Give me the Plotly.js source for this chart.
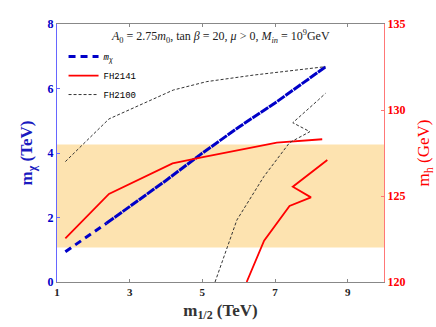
<!DOCTYPE html>
<html><head><meta charset="utf-8">
<script src="https://cdn.plot.ly/plotly-3.0.1.min.js"></script>
<style>body{margin:0;padding:0;background:#fff}#c{width:436px;height:327px}</style>
</head><body><div id="c"></div>
<script>
// m_chi (TeV) vs m_1/2 (TeV): sparse (dashed) part and dense part
const mchiX1 = [1.23, 2.36];
const mchiY1 = [0.94, 1.82];
const mchiX2 = [2.36, 3.2, 4.0, 4.98, 6.0, 7.0, 7.8, 8.39];
const mchiY2 = [1.82, 2.5, 3.15, 3.98, 4.8, 5.55, 6.2, 6.67];
// FH2141 (GeV), branch 1 and branch 2
const fh41aX = [1.23, 2.43, 4.18, 4.98, 7.05, 8.30];
const fh41aY = [122.54, 125.12, 126.9, 127.25, 128.1, 128.3];
const fh41bX = [6.22, 6.70, 7.40, 7.99, 7.49, 8.44];
const fh41bY = [120.0, 122.4, 124.42, 124.92, 125.54, 127.09];
// FH2100 (GeV)
const fh00aX = [1.23, 2.43, 4.2, 5.12, 6.41, 8.39];
const fh00aY = [127.0, 129.48, 131.16, 131.65, 132.03, 132.52];
const fh00bX = [5.35, 5.95, 6.69, 7.40, 7.96, 7.49, 8.2, 8.39];
const fh00bY = [120.0, 123.6, 126.12, 128.1, 128.74, 129.26, 130.6, 130.97];
const hBand = [122, 128];
const xTicks = [1, 3, 5, 7, 9];

const blue = '#0000c8', red = '#ff0000', grey = '#333333';
const serif = 'Liberation Serif, DejaVu Serif, serif';
const mono = 'Liberation Mono, DejaVu Sans Mono, monospace';

const traces = [
  {x: mchiX1, y: mchiY1, mode: 'lines', name: '<i>m<sub>χ</sub></i>', line: {color: blue, width: 3, dash: '7px,5px'}, yaxis: 'y', legendgroup: 'm'},
  {x: mchiX2, y: mchiY2, mode: 'lines', name: 'mchi', showlegend: false, line: {color: blue, width: 3, dash: '9px,1px'}, yaxis: 'y', legendgroup: 'm'},
  {x: fh41aX, y: fh41aY, mode: 'lines', name: 'FH2141', line: {color: red, width: 1.8}, yaxis: 'y2', legendgroup: 'a'},
  {x: fh41bX, y: fh41bY, mode: 'lines', name: 'FH2141', showlegend: false, line: {color: red, width: 1.8}, yaxis: 'y2', legendgroup: 'a'},
  {x: fh00aX, y: fh00aY, mode: 'lines', name: 'FH2100', line: {color: grey, width: 1, dash: '3px,2px'}, yaxis: 'y2', legendgroup: 'b'},
  {x: fh00bX, y: fh00bY, mode: 'lines', name: 'FH2100', showlegend: false, line: {color: grey, width: 1, dash: '3px,2px'}, yaxis: 'y2', legendgroup: 'b'}
];

const layout = {
  width: 436, height: 327,
  margin: {l: 57, r: 52, t: 24, b: 45},
  paper_bgcolor: '#fff', plot_bgcolor: '#fff',
  showlegend: true,
  legend: {x: 0.02, y: 0.93, xanchor: 'left', yanchor: 'top', bgcolor: 'rgba(0,0,0,0)',
           font: {family: mono, size: 9, color: '#000'}, tracegroupgap: 0, itemwidth: 30},
  xaxis: {range: [1, 10], tickvals: xTicks, ticks: 'inside', ticklen: 3, tickcolor: '#888',
          showline: true, linecolor: '#888', mirror: 'ticks', showgrid: false, zeroline: false,
          tickfont: {family: serif, size: 11, color: '#222', weight: 'bold'},
          title: {text: '<b>m<sub>1/2</sub> (TeV)</b>', font: {family: serif, size: 17, color: '#333'}, standoff: 6}},
  yaxis: {range: [0, 8], dtick: 2, ticks: 'inside', ticklen: 3, tickcolor: '#6666ff',
          showline: true, linecolor: '#6666ff', showgrid: false, zeroline: false,
          tickfont: {family: serif, size: 12, color: blue, weight: 'bold'},
          title: {text: '<b>m<sub>χ</sub> (TeV)</b>', font: {family: serif, size: 17, color: '#1a1ac0'}, standoff: 10}},
  yaxis2: {range: [120, 135], dtick: 5, overlaying: 'y', side: 'right', ticks: 'inside', ticklen: 3,
           tickcolor: '#ff7777', showline: true, linecolor: '#ff7777', showgrid: false, zeroline: false,
           tickfont: {family: serif, size: 12, color: red, weight: 'bold'},
           title: {text: 'm<sub>h</sub> (GeV)', font: {family: serif, size: 17, color: red}, standoff: 18}},
  shapes: [{type: 'rect', xref: 'paper', yref: 'y2', x0: 0, x1: 1, y0: hBand[0], y1: hBand[1],
            fillcolor: '#fde3b0', line: {width: 0}, layer: 'below'}],
  annotations: [{xref: 'paper', yref: 'paper', x: 0.5, y: 1, yanchor: 'top', yshift: -2, showarrow: false,
                 text: '<i>A</i><sub>0</sub> = 2.75<i>m</i><sub>0</sub>, tan <i>β</i> = 20, <i>μ</i> > 0, <i>M<sub>in</sub></i> = 10<sup>9</sup>GeV',
                 font: {family: serif, size: 12, color: '#222'}}]
};
Plotly.newPlot('c', traces, layout, {staticPlot: true, displayModeBar: false});
</script></body></html>
